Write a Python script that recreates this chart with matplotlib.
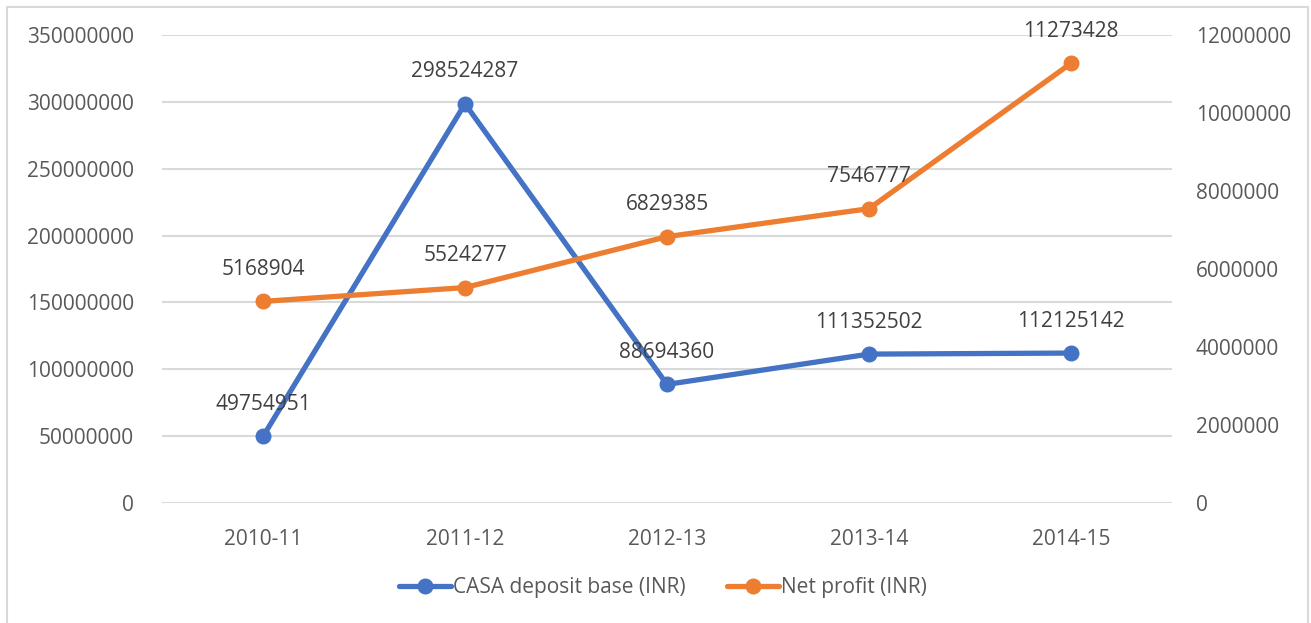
import matplotlib.pyplot as plt
from matplotlib.patches import Rectangle

plt.rcParams['font.family'] = ['Open Sans', 'DejaVu Sans']

# data
years = ['2010-11', '2011-12', '2012-13', '2013-14', '2014-15']
casa = [49754951, 298524287, 88694360, 111352502, 112125142]
profit = [5168904, 5524277, 6829385, 7546777, 11273428]

blue = '#4472C4'
orange = '#ED7D31'
grid_c = '#D9D9D9'
tick_c = '#595959'
lab_c = '#404040'

fig = plt.figure(figsize=(13.11, 6.23), dpi=100)
ax = fig.add_axes([162 / 1311, 1 - 503 / 623, 1010 / 1311, 468 / 623])
ax2 = ax.twinx()

x = list(range(len(years)))

# light grey chart border
fig.patches.append(Rectangle((7 / 1311, -0.05), 1301 / 1311, 1 - 7 / 623 + 0.05,
                             transform=fig.transFigure, fill=False,
                             edgecolor='#D9D9D9', linewidth=1.5))

ax.set_ylim(0, 350000000)
ax.set_yticks(range(0, 350000001, 50000000))
ax2.set_ylim(0, 12000000)
ax2.set_yticks(range(0, 12000001, 2000000))
ax.set_xlim(-0.5, len(years) - 0.5)
ax.set_xticks(x)
ax.set_xticklabels(years)

ax.yaxis.grid(True, color=grid_c, linewidth=1.5)
ax.set_axisbelow(True)

for a in (ax, ax2):
    for s in a.spines.values():
        s.set_visible(False)
    a.tick_params(length=0, labelsize=15, labelcolor=tick_c)
    a.yaxis.set_major_formatter(plt.FuncFormatter(lambda v, p: f'{int(v)}'))
ax.tick_params(axis='y', pad=20)
ax.tick_params(axis='x', pad=19)
ax2.tick_params(axis='y', pad=17)

l1, = ax.plot(x, casa, color=blue, linewidth=3.8, marker='o', markersize=10.5,
              solid_capstyle='round', label='CASA deposit base (INR)', zorder=3)
l2, = ax2.plot(x, profit, color=orange, linewidth=3.8, marker='o', markersize=10.5,
               solid_capstyle='round', label='Net profit (INR)', zorder=3)

for xi, v in zip(x, casa):
    ax.annotate(str(v), (xi, v), xytext=(0, 23), textcoords='offset points',
                ha='center', va='center', fontsize=15, color=lab_c)
for xi, v in zip(x, profit):
    ax2.annotate(str(v), (xi, v), xytext=(0, 23), textcoords='offset points',
                 ha='center', va='center', fontsize=15, color=lab_c)

fig.legend([l1, l2], [l1.get_label(), l2.get_label()], loc='center',
           bbox_to_anchor=(663 / 1311, 1 - 588 / 623), ncol=2, frameon=False,
           fontsize=15, labelcolor=tick_c, handlelength=2.5, handletextpad=0.1,
           columnspacing=2.0)

fig.savefig('out.png', dpi=100)
